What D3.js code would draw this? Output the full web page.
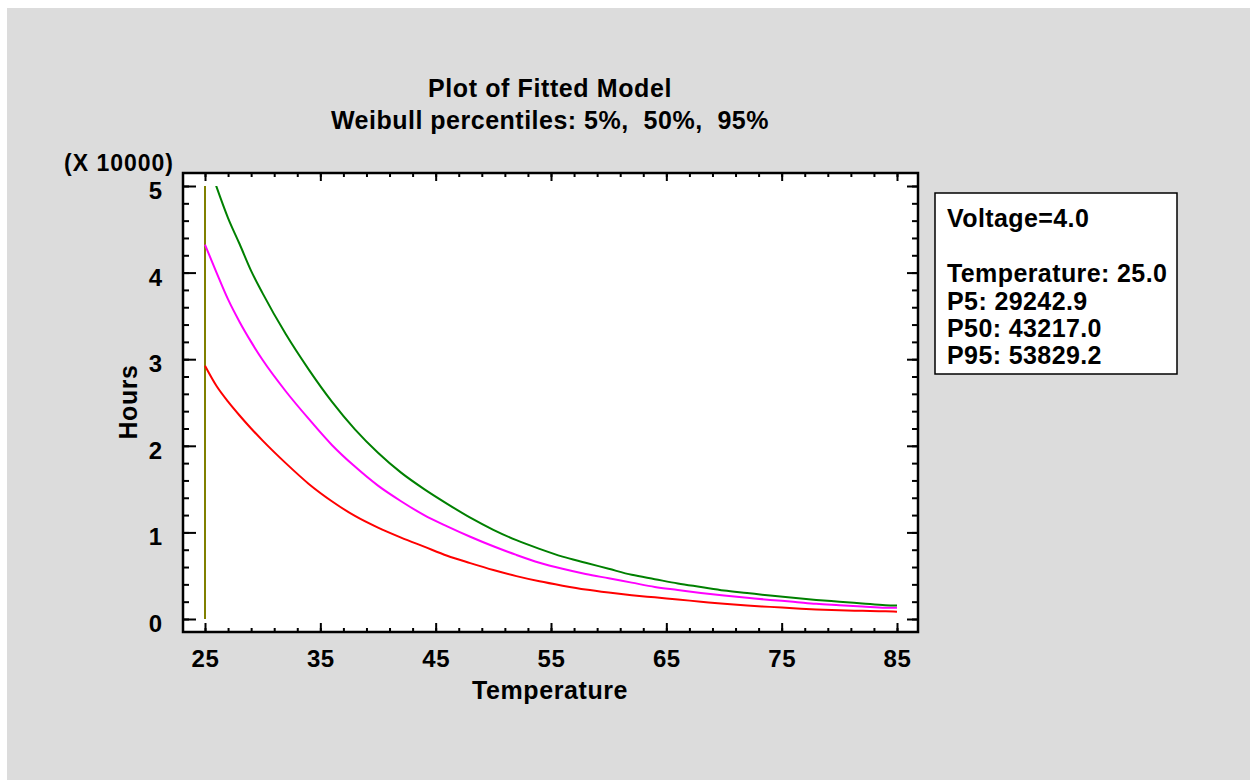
<!DOCTYPE html>
<html><head><meta charset="utf-8">
<script src="https://cdn.jsdelivr.net/npm/d3@7"></script>
<style>body{margin:0;background:#fff}svg{display:block}text{font-family:"Liberation Sans",Arial,sans-serif;font-weight:bold;fill:#000}</style>
</head><body><svg id="c" width="1250" height="780"></svg>
<script>
const temps = [25,26,27,28,29,30,32,34,36,38,40,42,44,46,48,50,52,54,56,58,60,62,64,66,68,70,72,74,76,78,80,82,84,85];
const p95 = [5.383,4.99,4.63,4.33,4.02,3.76,3.29,2.88,2.51,2.19,1.92,1.69,1.50,1.33,1.17,1.03,0.91,0.81,0.72,0.65,0.58,0.51,0.46,0.41,0.37,0.33,0.30,0.27,0.245,0.22,0.20,0.18,0.16,0.155];
const p50 = [4.322,4.00,3.69,3.43,3.20,2.99,2.63,2.31,2.01,1.76,1.54,1.36,1.20,1.07,0.95,0.84,0.74,0.65,0.58,0.52,0.47,0.42,0.37,0.335,0.30,0.27,0.245,0.22,0.20,0.175,0.16,0.145,0.13,0.13];
const p5  = [2.924,2.69,2.51,2.35,2.20,2.06,1.80,1.56,1.36,1.19,1.055,0.94,0.835,0.73,0.645,0.565,0.495,0.435,0.385,0.34,0.305,0.275,0.25,0.225,0.20,0.175,0.155,0.14,0.125,0.11,0.10,0.095,0.09,0.085];
const series = [{name:"P5",values:p5,color:"#ff0000"},{name:"P50",values:p50,color:"#ff00ff"},{name:"P95",values:p95,color:"#008000"}];
const xMajor = [25,35,45,55,65,75,85];
const yMajor = [0,1,2,3,4,5];
const cursorT = 25;
const titleLines = ["Plot of Fitted Model","Weibull percentiles: 5%,  50%,  95%"];
const legendLines = ["Voltage=4.0","","Temperature: 25.0","P5: 29242.9","P50: 43217.0","P95: 53829.2"];

const svg = d3.select("#c");
svg.append("rect").attr("x",7).attr("y",8).attr("width",1243).attr("height",772).attr("fill","#dcdcdc");
const F = {l:183,r:918,t:173,b:632};
const x = d3.scaleLinear().domain([25,85]).range([205,897]);
const y = d3.scaleLinear().domain([0,5]).range([619,186]);

svg.append("rect").attr("x",F.l).attr("y",F.t).attr("width",F.r-F.l).attr("height",F.b-F.t).attr("fill","#fff");

svg.append("clipPath").attr("id","cl").append("rect")
  .attr("x",F.l).attr("y",y(5)).attr("width",F.r-F.l).attr("height",y(0)-y(5)+20);

// cursor line
svg.append("line").attr("x1",x(cursorT)).attr("x2",x(cursorT)).attr("y1",y(0)).attr("y2",y(5))
  .attr("stroke","#808000").attr("stroke-width",2);

const line = d3.line().x((d,i)=>x(temps[i])).y(d=>y(d)).curve(d3.curveMonotoneX);
const g = svg.append("g").attr("clip-path","url(#cl)");
series.forEach(s=>{
  g.append("path").attr("d",line(s.values)).attr("fill","none").attr("stroke",s.color).attr("stroke-width",2);
});

// axes (ticks inward)
const xMinor = d3.range(25,85.01,2);
const yMinor = d3.range(0,5.001,0.2);
const bottom = svg.append("g").attr("transform",`translate(0,${F.b})`)
  .call(d3.axisBottom(x).tickValues(xMinor).tickSize(-4).tickFormat(""));
const bottom2 = svg.append("g").attr("transform",`translate(0,${F.b})`)
  .call(d3.axisBottom(x).tickValues(xMajor).tickSize(-9).tickPadding(22).tickFormat(d3.format("d")));
const top1 = svg.append("g").attr("transform",`translate(0,${F.t})`)
  .call(d3.axisTop(x).tickValues(xMinor).tickSize(-4).tickFormat(""));
const top2 = svg.append("g").attr("transform",`translate(0,${F.t})`)
  .call(d3.axisTop(x).tickValues(xMajor).tickSize(-8).tickFormat(""));
const left1 = svg.append("g").attr("transform",`translate(${F.l},0)`)
  .call(d3.axisLeft(y).tickValues(yMinor).tickSize(-6).tickFormat(""));
const left2 = svg.append("g").attr("transform",`translate(${F.l},0)`)
  .call(d3.axisLeft(y).tickValues(yMajor).tickSize(-13).tickPadding(21).tickFormat(d3.format("d")));
const right1 = svg.append("g").attr("transform",`translate(${F.r},0)`)
  .call(d3.axisRight(y).tickValues(yMinor).tickSize(-6).tickFormat(""));
const right2 = svg.append("g").attr("transform",`translate(${F.r},0)`)
  .call(d3.axisRight(y).tickValues(yMajor).tickSize(-11).tickFormat(""));
svg.selectAll(".domain").remove();
svg.selectAll(".tick line").attr("stroke","#000").attr("stroke-width",2);
bottom2.selectAll(".tick text").attr("font-size",24).attr("letter-spacing","0.6px").attr("font-family","Liberation Sans, Arial").attr("font-weight","bold").attr("dy","0.55em");
left2.selectAll(".tick text").attr("font-size",24).attr("font-family","Liberation Sans, Arial").attr("font-weight","bold").attr("dy","0.52em");

svg.append("rect").attr("x",F.l).attr("y",F.t).attr("width",F.r-F.l).attr("height",F.b-F.t)
  .attr("fill","none").attr("stroke","#000").attr("stroke-width",2.5);

// titles
svg.append("text").attr("x",550).attr("y",97).attr("text-anchor","middle").attr("font-size",25).attr("letter-spacing","0.6px").text(titleLines[0]);
svg.append("text").attr("x",550).attr("y",129).attr("text-anchor","middle").attr("font-size",25).attr("letter-spacing","0.5px").attr("xml:space","preserve").style("white-space","pre").text(titleLines[1]);
svg.append("text").attr("x",64).attr("y",171).attr("font-size",23).attr("letter-spacing","1px").text("(X 10000)");
svg.append("text").attr("x",550).attr("y",699).attr("text-anchor","middle").attr("font-size",25).attr("letter-spacing","0.6px").text("Temperature");
svg.append("text").attr("transform","translate(137,402) rotate(-90)").attr("text-anchor","middle").attr("font-size",25).attr("letter-spacing","0.6px").text("Hours");

// legend box
svg.append("rect").attr("x",935).attr("y",193).attr("width",242).attr("height",181).attr("fill","#fff").attr("stroke","#000").attr("stroke-width",1.5);
const lb = [227,0,282,310,337,364];
legendLines.forEach((t,i)=>{ if(t) svg.append("text").attr("x",947).attr("y",lb[i]).attr("font-size",25).attr("letter-spacing","0.4px").text(t); });
</script></body></html>
